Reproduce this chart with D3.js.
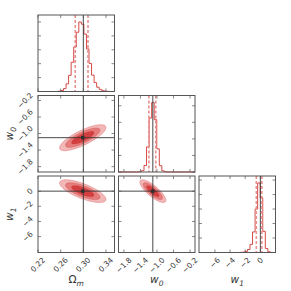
<!DOCTYPE html>
<html>
<head>
<meta charset="utf-8">
<script src="https://cdn.jsdelivr.net/npm/d3@7"></script>
<style>
  body { margin: 0; background: #fff; }
  text { font-family: 'DejaVu Sans', sans-serif; }
</style>
</head>
<body>
<div id="chart-area"></div>
<script>
// parameters
let domains = [[0.22, 0.355], [-1.93, -0.08], [-8.1, 2.0]];
let omTicks = [0.22, 0.26, 0.30, 0.34];
let w0Ticks = [-1.8, -1.4, -1.0, -0.6, -0.2];
let w1Ticks = [-6, -4, -2, 0];
let truths = [0.3, -1.1, 0.0];
let quantiles = [[0.2857, 0.3082], [-1.195, -1.029], [-0.53, 0.2]];

// 1D histograms
let omBins = { start: 0.22, width: 0.0045, step: 200 };
let omCounts = [0, 0, 0, 0, 0, 0, 0, 0, 5, 14, 42, 110, 232, 420, 640, 852, 1000, 968, 826, 612, 404, 236, 128, 62, 30, 12, 5, 2, 0, 0];
let w0Bins = { start: -1.93, width: 0.061667, step: 500 };
let w0Counts = [0, 0, 0, 0, 0, 0, 0, 0, 8, 40, 196, 760, 1630, 2100, 1580, 700, 190, 34, 5, 0, 0, 0, 0, 0, 0, 0, 0, 0, 0, 0];
let w1Bins = { start: -8.1, width: 0.33667, step: 500 };
let w1Counts = [0, 0, 0, 0, 0, 0, 0, 0, 0, 0, 0, 0, 0, 0, 0, 0, 3, 12, 38, 104, 280, 710, 1500, 2400, 1890, 730, 140, 24, 2, 0];

// 2D contours: centre, spread and correlation per panel
let centres = [0.299, -1.1, 0.0];
let spreads = [0.0117, 0.09, 0.43];
let correlations = [[1, 0.78, -0.72], [0.78, 1, -0.8], [-0.72, -0.8, 1]];
let levels = [3.5, 2.6, 1.7];
let levelColors = ['#f2b7b7', '#e57d7d', '#d33f3f'];

let tickSets = [omTicks, w0Ticks, w1Ticks];
let histBins = [omBins, w0Bins, w1Bins];
let histCounts = [omCounts, w0Counts, w1Counts];

// layout
let margin = { top: 15, left: 38 };
let size = 76.5, gap = 4;
let W = 291, H = 291;

let svg = d3.select('#chart-area').append('svg')
  .attr('width', W).attr('height', H);

let frameColor = '#555';
let tickLen = 3;

function panelX(j) { return margin.left + j * (size + gap); }
function panelY(i) { return margin.top + i * (size + gap); }

function fmtTick(k, d) {
  let s = k === 0 ? d.toFixed(2) : (k === 1 ? d.toFixed(1) : String(d));
  return s.replace('-', '\u2212');
}

function drawTicksX(g, x, k, h) {
  tickSets[k].forEach(t => {
    let px = x(t);
    g.append('line').attr('x1', px).attr('x2', px).attr('y1', h).attr('y2', h - tickLen)
      .attr('stroke', frameColor).attr('stroke-width', 0.7);
    g.append('line').attr('x1', px).attr('x2', px).attr('y1', 0).attr('y2', tickLen)
      .attr('stroke', frameColor).attr('stroke-width', 0.7);
  });
}
function drawTicksY(g, y, vals) {
  vals.forEach(t => {
    let py = y(t);
    g.append('line').attr('x1', 0).attr('x2', tickLen).attr('y1', py).attr('y2', py)
      .attr('stroke', frameColor).attr('stroke-width', 0.7);
    g.append('line').attr('x1', size).attr('x2', size - tickLen).attr('y1', py).attr('y2', py)
      .attr('stroke', frameColor).attr('stroke-width', 0.7);
  });
}

for (let i = 0; i < 3; i++) {
  for (let j = 0; j <= i; j++) {
    let g = svg.append('g').attr('transform', 'translate(' + panelX(j) + ',' + panelY(i) + ')');
    let x = d3.scaleLinear().domain(domains[j]).range([0, size]);

    if (i === j) {
      // histogram
      let bins = histBins[i], counts = histCounts[i];
      let ymax = d3.max(counts) * 1.1;
      let y = d3.scaleLinear().domain([0, ymax]).range([size, 0]);
      let pts = counts.map((c, k) => [bins.start + k * bins.width, c]);
      pts.push([bins.start + counts.length * bins.width, counts[counts.length - 1]]);
      let line = d3.line().x(d => x(d[0])).y(d => y(d[1])).curve(d3.curveStepAfter);
      g.append('path').attr('d', line(pts)).attr('fill', 'none')
        .attr('stroke', '#d64a46').attr('stroke-width', 1);

      quantiles[i].forEach(q => {
        g.append('line').attr('x1', x(q)).attr('x2', x(q)).attr('y1', 0).attr('y2', size)
          .attr('stroke', '#e88f8f').attr('stroke-width', 1.6).attr('stroke-dasharray', '3,2');
      });
      g.append('line').attr('x1', x(truths[i])).attr('x2', x(truths[i])).attr('y1', 0).attr('y2', size)
        .attr('stroke', '#333').attr('stroke-width', 0.9);

      drawTicksX(g, x, j, size);
      drawTicksY(g, y, d3.range(0, ymax, bins.step));
    } else {
      let y = d3.scaleLinear().domain(domains[i]).range([size, 0]);
      let sx = spreads[j], sy = spreads[i], rho = correlations[i][j];
      let mx = centres[j], my = centres[i];
      let angles = d3.range(0, 361, 4).map(a => a * Math.PI / 180);
      let line = d3.line().x(d => x(d[0])).y(d => y(d[1])).curve(d3.curveLinearClosed);

      levels.forEach((r, li) => {
        let pts = angles.map(a => {
          let u = r * Math.cos(a), v = r * Math.sin(a);
          return [mx + sx * u, my + sy * (rho * u + Math.sqrt(1 - rho * rho) * v)];
        });
        g.append('path').attr('d', line(pts))
          .attr('fill', levelColors[li])
          .attr('stroke', '#c93535').attr('stroke-width', 0.5).attr('stroke-opacity', 0.6);
      });

      g.append('rect').attr('x', x(mx) - 1.7).attr('y', y(my) - 1.7)
        .attr('width', 3.4).attr('height', 3.4).attr('fill', '#2a2a2a');

      g.append('line').attr('x1', x(truths[j])).attr('x2', x(truths[j])).attr('y1', 0).attr('y2', size)
        .attr('stroke', '#333').attr('stroke-width', 0.9);
      g.append('line').attr('x1', 0).attr('x2', size).attr('y1', y(truths[i])).attr('y2', y(truths[i]))
        .attr('stroke', '#333').attr('stroke-width', 0.9);

      drawTicksX(g, x, j, size);
      drawTicksY(g, y, tickSets[i]);

      // y tick labels on the left column
      if (j === 0) {
        tickSets[i].forEach(t => {
          let outer = g.append('g').attr('transform', 'translate(-3,' + y(t) + ')');
          let inner = outer.append('g');
          inner.append('text').attr('transform', 'rotate(-45)')
            .attr('text-anchor', 'end').attr('font-size', 7.5).attr('fill', '#333')
            .attr('dy', '0.35em').text(fmtTick(i, t));
          let b = inner.node().getBBox();
          inner.attr('transform', 'translate(' + (-(b.x + b.width)) + ',' + (-(b.y + b.height / 2)) + ')');
        });
      }
    }

    g.append('rect').attr('width', size).attr('height', size)
      .attr('fill', 'none').attr('stroke', frameColor).attr('stroke-width', 1);

    // x tick labels on the bottom row
    if (i === 2) {
      tickSets[j].forEach(t => {
        let outer = g.append('g').attr('transform', 'translate(' + x(t) + ',' + (size + 3) + ')');
        let inner = outer.append('g');
        inner.append('text').attr('transform', 'rotate(-45)')
          .attr('text-anchor', 'end').attr('font-size', 7.5).attr('fill', '#333')
          .attr('dy', '0.35em').text(fmtTick(j, t));
        let b = inner.node().getBBox();
        inner.attr('transform', 'translate(' + (-(b.x + b.width / 2)) + ',' + (-b.y) + ')');
      });
    }
  }
}

// axis labels
let labelFont = "'DejaVu Serif', serif";
function mathLabel(sel, base, sub, italicBase) {
  let t = sel.append('text').attr('text-anchor', 'middle').attr('font-family', labelFont)
    .attr('font-size', 10.5).attr('fill', '#333');
  t.append('tspan').attr('font-style', italicBase ? 'italic' : 'normal').text(base);
  t.append('tspan').attr('font-style', 'italic').attr('font-size', 7.5).attr('dy', 2.5).text(sub);
  return t;
}
mathLabel(svg.append('g').attr('transform', 'translate(' + (panelX(0) + size / 2) + ',283)'), '\u03a9', 'm', false);
mathLabel(svg.append('g').attr('transform', 'translate(' + (panelX(1) + size / 2) + ',283)'), 'w', '0', true);
mathLabel(svg.append('g').attr('transform', 'translate(' + (panelX(2) + size / 2) + ',283)'), 'w', '1', true);
mathLabel(svg.append('g').attr('transform', 'translate(13,' + (panelY(1) + size / 2) + ') rotate(-90)'), 'w', '0', true);
mathLabel(svg.append('g').attr('transform', 'translate(13,' + (panelY(2) + size / 2) + ') rotate(-90)'), 'w', '1', true);
</script>
</body>
</html>
